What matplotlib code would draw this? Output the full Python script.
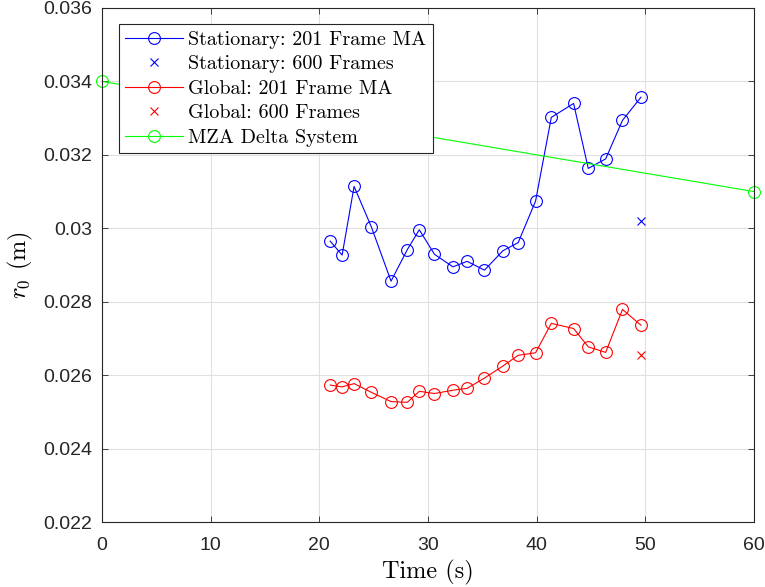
import matplotlib
matplotlib.use("Agg")
import matplotlib.pyplot as plt

plt.rcParams['font.family'] = ['Liberation Sans', 'DejaVu Sans']
plt.rcParams['mathtext.fontset'] = 'cm'

# Stationary, 201 frame moving average
t_stat = [21.0, 22.1, 23.2, 24.8, 26.6, 28.1, 29.2, 30.6, 32.3, 33.6, 35.2,
          36.9, 38.3, 39.9, 41.35, 43.4, 44.75, 46.35, 47.9, 49.6]
r_stat = [0.02965, 0.02927, 0.03114, 0.03003, 0.02856, 0.02942, 0.02996,
          0.02929, 0.02895, 0.02910, 0.02886, 0.02939, 0.02961, 0.03074,
          0.03302, 0.03340, 0.03163, 0.03189, 0.03294, 0.03357]
t_stat600 = [49.6]
r_stat600 = [0.03020]

# Global, 201 frame moving average
t_glob = t_stat
r_glob = [0.02573, 0.02568, 0.02577, 0.02553, 0.02528, 0.02526, 0.02556,
          0.02550, 0.02559, 0.02564, 0.02592, 0.02625, 0.02654, 0.02661,
          0.02741, 0.02727, 0.02677, 0.02662, 0.02779, 0.02736]
t_glob600 = [49.6]
r_glob600 = [0.02654]

# MZA Delta system
t_mza = [0, 60]
r_mza = [0.0340, 0.0310]

labels = ['Stationary: 201 Frame MA', 'Stationary: 600 Frames',
          'Global: 201 Frame MA', 'Global: 600 Frames', 'MZA Delta System']

fig = plt.figure(figsize=(7.65, 5.87), dpi=100)
ax = fig.add_axes([0.1333, 0.1107, 0.8523, 0.8757])

ms = 8.5
lw = 0.8
ax.plot(t_stat, r_stat, 'o-', color='b', mfc='none', ms=ms, lw=lw, mew=lw,
        label=labels[0])
ax.plot(t_stat600, r_stat600, 'x', color='b', ms=6, mew=lw, label=labels[1])
ax.plot(t_glob, r_glob, 'o-', color='r', mfc='none', ms=ms, lw=lw, mew=lw,
        label=labels[2])
ax.plot(t_glob600, r_glob600, 'x', color='r', ms=6, mew=lw, label=labels[3])
ax.plot(t_mza, r_mza, 'o-', color='#00ff00', mfc='none', ms=ms, lw=lw, mew=lw,
        label=labels[4], clip_on=False)

ax.set_xlim(0, 60)
ax.set_ylim(0.022, 0.036)
ax.set_xticks([0, 10, 20, 30, 40, 50, 60])
yt = [0.022, 0.024, 0.026, 0.028, 0.03, 0.032, 0.034, 0.036]
ax.set_yticks(yt)
ax.set_yticklabels(['%g' % v for v in yt])
ax.tick_params(direction='in', top=True, right=True, labelsize=14,
               length=4, width=0.6, colors='#262626')
ax.tick_params(axis='x', pad=11)
ax.tick_params(axis='y', pad=7)
ax.grid(True, color='#e0e0e0', lw=0.8)
ax.set_axisbelow(True)
for s in ax.spines.values():
    s.set_color('#262626')
    s.set_linewidth(0.8)

ax.set_xlabel('Time (s)', family='cmr10', fontsize=17.5, labelpad=4)
ax.set_ylabel(r'$r_0$ (m)', family='cmr10', fontsize=17.5, labelpad=6)

leg = ax.legend(loc='upper left', bbox_to_anchor=(0.026, 0.968),
                borderaxespad=0, prop={'family': 'cmr10', 'size': 14.5},
                fancybox=False, edgecolor='#262626', framealpha=1,
                handlelength=2.9, labelspacing=0.32, borderpad=0.3,
                handletextpad=0.25)
leg.get_frame().set_linewidth(0.8)

fig.savefig('out.png', dpi=100)
